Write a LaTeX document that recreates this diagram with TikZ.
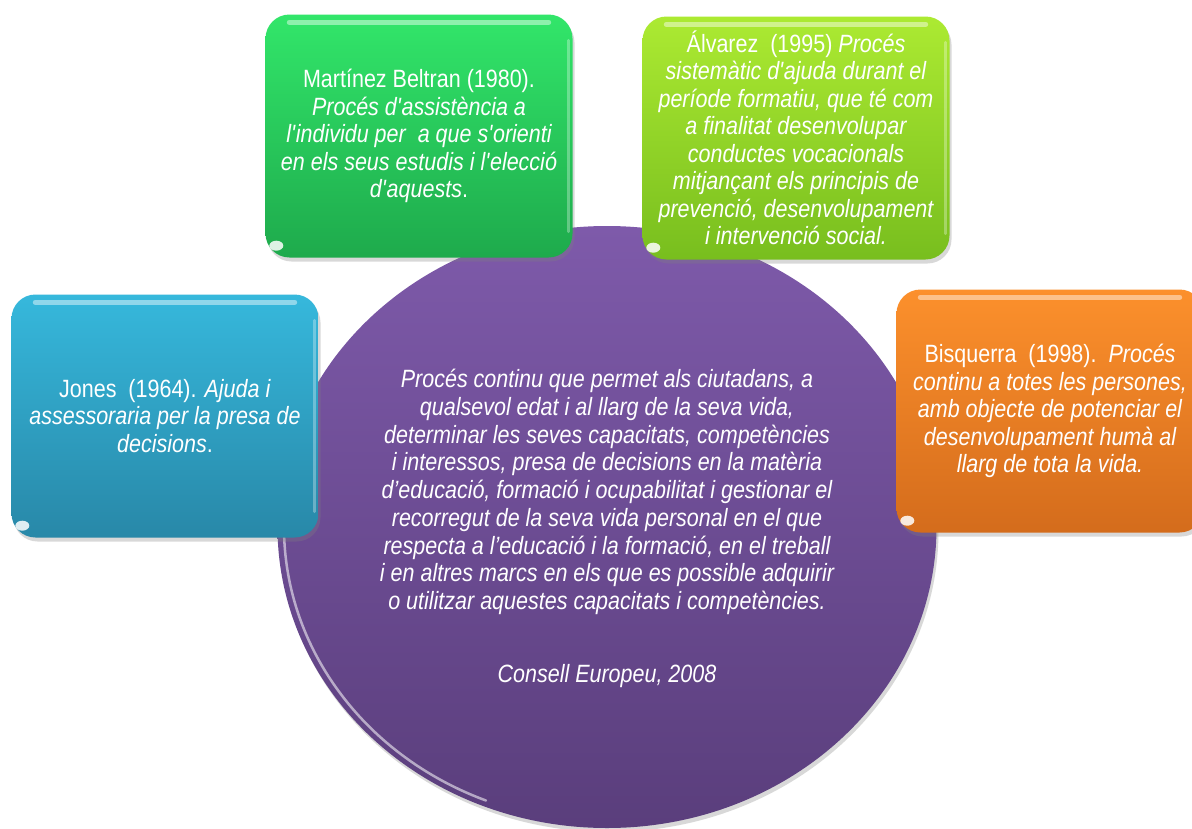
\documentclass[tikz,border=0pt]{standalone}
\usepackage{fontspec}
\setmainfont{Liberation Sans}[FakeStretch=0.86]
\usetikzlibrary{shapes.geometric,shadows}
\definecolor{greenT}{RGB}{50,230,106}
\definecolor{greenB}{RGB}{30,170,76}
\definecolor{limeT}{RGB}{172,234,50}
\definecolor{limeB}{RGB}{120,190,30}
\definecolor{blueT}{RGB}{54,184,220}
\definecolor{blueB}{RGB}{40,136,168}
\definecolor{orangeT}{RGB}{252,144,44}
\definecolor{orangeB}{RGB}{212,108,28}
\definecolor{purpT}{RGB}{126,90,170}
\definecolor{purpB}{RGB}{90,62,124}
\newcommand{\ap}{\textquotesingle}
\begin{document}
\begin{tikzpicture}[x=1pt,y=-1pt,
  box/.style={rectangle, rounded corners=24pt, minimum width=307pt, minimum height=243pt,
    inner sep=0pt, align=center, text=white, font=\fontsize{25}{27.5}\selectfont,
    drop shadow={opacity=0.3, shadow xshift=2pt, shadow yshift=-4pt}},
  txt/.style={align=center, text=white, font=\fontsize{25}{27.7}\selectfont, inner sep=0pt},
  gloss/.style={white, opacity=0.45, line width=5pt, line cap=round},
  edge/.style={white, opacity=0.3, line width=3pt, line cap=round},
  blob/.style={white, opacity=0.85}]
\clip (0,0) rectangle (1192,828);
\fill[white] (0,0) rectangle (1192,828);

\node[ellipse, minimum width=659pt, minimum height=602pt, inner sep=0pt,
  top color=purpT, bottom color=purpB,
  drop shadow={opacity=0.3, shadow xshift=2pt, shadow yshift=-4pt}] (circ) at (607,527) {};
\draw[white, opacity=0.55, line width=2.5pt, line cap=round]
  (607,527) ++(112:323 and 295) arc[start angle=112, end angle=185, x radius=323, y radius=295];

\node[txt] (ctext) at (607,492) {\itshape Procés continu que permet als ciutadans, a\\
\itshape qualsevol edat i al llarg de la seva vida,\\
\itshape determinar les seves capacitats, competències\\
\itshape i interessos, presa de decisions en la matèria\\
\itshape d’educació, formació i ocupabilitat i gestionar el\\
\itshape recorregut de la seva vida personal en el que\\
\itshape respecta a l’educació i la formació, en el treball\\
\itshape i en altres marcs en els que es possible adquirir\\
\itshape o utilitzar aquestes capacitats i competències.};
\node[txt] (cref) at (607,676) {\itshape Consell Europeu, 2008};

\node[box, top color=greenT, bottom color=greenB] (mb) at (419,136)
 {Martínez Beltran (1980).\\
 \itshape Procés d\ap assistència a\\
 \itshape l\ap individu per\ \ a que s\ap orienti\\
 \itshape en els seus estudis i l\ap elecció\\
 \textit{d\ap aquests}.};

\node[box, top color=limeT, bottom color=limeB] (al) at (796,138)
 {Álvarez\ \ (1995) \textit{Procés}\\
 \itshape sistemàtic d\ap ajuda durant el\\
 \itshape període formatiu, que té com\\
 \itshape a finalitat desenvolupar\\
 \itshape conductes vocacionals\\
 \itshape mitjançant els principis de\\
 \itshape prevenció, desenvolupament\\
 \itshape i intervenció social.};

\node[box, top color=blueT, bottom color=blueB] (jo) at (165,416)
 {Jones\ \ (1964). \textit{Ajuda i}\\
 \itshape assessoraria per la presa de\\
 \textit{decisions}.};

\node[box, top color=orangeT, bottom color=orangeB] (bi) at (1050,411)
 {Bisquerra\ \ (1998).\ \ \textit{Procés}\\
 \itshape continu a totes les persones,\\
 \itshape amb objecte de potenciar el\\
 \itshape desenvolupament humà al\\
 \itshape llarg de tota la vida.};

\foreach \b in {mb,al,jo,bi}{
  \draw[gloss] ([xshift=24pt,yshift=-8pt]\b.north west) -- ([xshift=-24pt,yshift=-8pt]\b.north east);
  \draw[edge] ([xshift=-4pt,yshift=-26pt]\b.north east) -- ([xshift=-4pt,yshift=26pt]\b.south east);
  \fill[blob] ([xshift=11pt,yshift=12pt]\b.south west) ellipse (7pt and 5pt);
}
\end{tikzpicture}
\end{document}
